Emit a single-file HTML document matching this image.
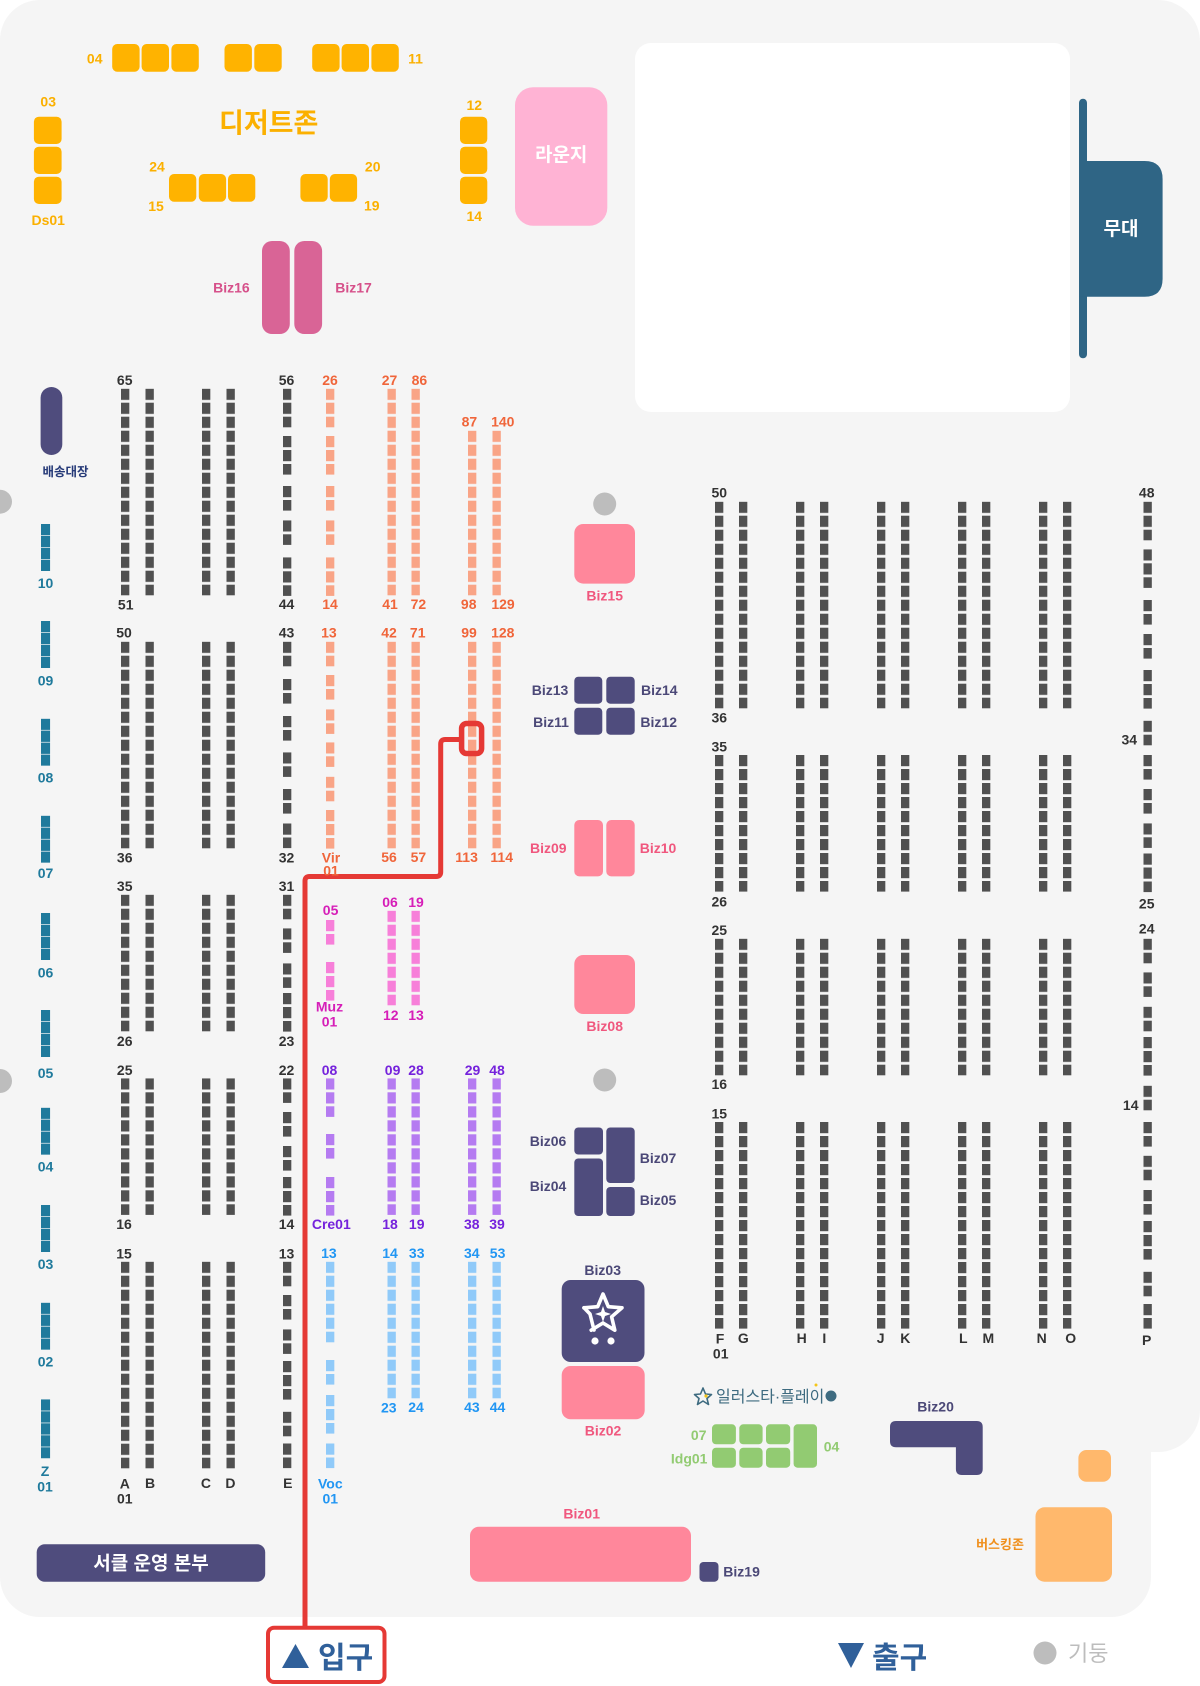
<!DOCTYPE html>
<html lang="ko">
<head>
<meta charset="utf-8">
<style>
  html,body{margin:0;padding:0;background:#ffffff;}
  body{width:1200px;height:1686px;overflow:hidden;}
  svg{display:block;}
  text{font-family:"Liberation Sans","Noto Sans CJK KR",sans-serif;}
  .l text{font-size:14px;font-weight:700;text-anchor:middle;}
</style>
</head>
<body>
<svg width="1200" height="1686" viewBox="0 0 1200 1686" xmlns="http://www.w3.org/2000/svg">
  <defs>
    <pattern id="pg" width="20" height="14" patternUnits="userSpaceOnUse"><rect width="8.4" height="11.2" fill="#505050"/></pattern>
    <pattern id="po" width="20" height="14" patternUnits="userSpaceOnUse"><rect width="8.4" height="11.2" fill="#F9A486"/></pattern>
    <pattern id="pp" width="20" height="14" patternUnits="userSpaceOnUse"><rect width="8.4" height="11.2" fill="#F77FD9"/></pattern>
    <pattern id="pu" width="20" height="14" patternUnits="userSpaceOnUse"><rect width="8.4" height="11.2" fill="#B57BF1"/></pattern>
    <pattern id="pb" width="20" height="14" patternUnits="userSpaceOnUse"><rect width="8.4" height="11.2" fill="#90CAF9"/></pattern>
    <pattern id="pt" width="20" height="12" patternUnits="userSpaceOnUse"><rect width="9.2" height="11.3" fill="#1F7A9C"/></pattern>
  </defs>

  <!-- background -->
  <rect x="0" y="0" width="1200" height="1452" rx="42" fill="#F5F5F5"/>
  <rect x="0" y="0" width="1151" height="1617" rx="40" fill="#F5F5F5"/>

  <!-- white area top right -->
  <rect x="635" y="43" width="435" height="369" rx="16" fill="#FFFFFF"/>

  <!-- stage -->
  <rect x="1079" y="98.7" width="8" height="259.6" rx="4" fill="#2F6585"/>
  <path d="M1079,161 L1144.6,161 Q1162.6,161 1162.6,179 L1162.6,278.7 Q1162.6,296.7 1144.6,296.7 L1079,296.7 Z" fill="#2F6585"/>
  <text x="1121" y="235" font-size="19" font-weight="700" fill="#FFFFFF" text-anchor="middle">무대</text>

  <!-- dessert zone boxes -->
  <g fill="#FFB300">
    <rect x="112.2" y="44" width="27.4" height="27.7" rx="5"/>
    <rect x="141.6" y="44" width="27.4" height="27.7" rx="5"/>
    <rect x="171.4" y="44" width="27.4" height="27.7" rx="5"/>
    <rect x="224.5" y="44" width="27.4" height="27.7" rx="5"/>
    <rect x="254.3" y="44" width="27.4" height="27.7" rx="5"/>
    <rect x="312.2" y="44" width="27.4" height="27.7" rx="5"/>
    <rect x="341.6" y="44" width="27.4" height="27.7" rx="5"/>
    <rect x="371.4" y="44" width="27.4" height="27.7" rx="5"/>
    <rect x="33.9" y="116.7" width="27.7" height="27.3" rx="5"/>
    <rect x="33.9" y="146.7" width="27.7" height="27.3" rx="5"/>
    <rect x="33.9" y="176.7" width="27.7" height="27.3" rx="5"/>
    <rect x="169" y="174" width="27.3" height="27.7" rx="5"/>
    <rect x="198.8" y="174" width="27.3" height="27.7" rx="5"/>
    <rect x="228" y="174" width="27.3" height="27.7" rx="5"/>
    <rect x="300.4" y="174" width="27.3" height="27.7" rx="5"/>
    <rect x="329.8" y="174" width="27.3" height="27.7" rx="5"/>
    <rect x="460" y="116.7" width="27.3" height="27.3" rx="5"/>
    <rect x="460" y="146.7" width="27.3" height="27.3" rx="5"/>
    <rect x="460" y="176.7" width="27.3" height="27.3" rx="5"/>
  </g>
  <text x="268.7" y="132.5" font-size="27" font-weight="700" fill="#FBB000" text-anchor="middle">디저트존</text>

  <!-- lounge -->
  <rect x="515" y="87.3" width="92.3" height="138.4" rx="18" fill="#FFB3D4"/>
  <text x="561.2" y="161" font-size="19" font-weight="700" fill="#FFFFFF" text-anchor="middle">라운지</text>

  <!-- Biz16/17 -->
  <rect x="262" y="241" width="27.8" height="93" rx="10" fill="#D96496"/>
  <rect x="294.3" y="241" width="27.8" height="93" rx="10" fill="#D96496"/>

  <!-- 배송대장 -->
  <rect x="40.6" y="387" width="21.7" height="68" rx="10.8" fill="#4F4C7D"/>
  <text x="65.5" y="476" font-size="12.5" font-weight="700" fill="#263A78" text-anchor="middle">배송대장</text>

  <!-- pillars -->
  <g fill="#BDBDBD">
    <circle cx="0" cy="501.7" r="12"/>
    <circle cx="0" cy="1081" r="12"/>
    <circle cx="604.7" cy="504" r="11.5"/>
    <circle cx="604.7" cy="1080" r="11.5"/>
  </g>

  <!-- left wall teal booths -->
  <g fill="url(#pt)">
    <rect transform="translate(41,524)" width="9.2" height="47"/>
    <rect transform="translate(41,621)" width="9.2" height="47"/>
    <rect transform="translate(41,718.7)" width="9.2" height="47"/>
    <rect transform="translate(41,815.7)" width="9.2" height="47"/>
    <rect transform="translate(41,913)" width="9.2" height="47"/>
    <rect transform="translate(41,1010)" width="9.2" height="47"/>
    <rect transform="translate(41,1107.7)" width="9.2" height="47"/>
    <rect transform="translate(41,1205)" width="9.2" height="47"/>
    <rect transform="translate(41,1302.7)" width="9.2" height="47"/>
    <rect transform="translate(41,1399.3)" width="9.2" height="59"/>
  </g>

  <!-- left block gray A B C D -->
  <g fill="url(#pg)">
    <rect transform="translate(121,388.7)" width="8.4" height="206.6"/>
    <rect transform="translate(145.5,388.7)" width="8.4" height="206.6"/>
    <rect transform="translate(202,388.7)" width="8.4" height="206.6"/>
    <rect transform="translate(226.5,388.7)" width="8.4" height="206.6"/>
    <rect transform="translate(121,641.7)" width="8.4" height="206.6"/>
    <rect transform="translate(145.5,641.7)" width="8.4" height="206.6"/>
    <rect transform="translate(202,641.7)" width="8.4" height="206.6"/>
    <rect transform="translate(226.5,641.7)" width="8.4" height="206.6"/>
    <rect transform="translate(121,894.7)" width="8.4" height="136.6"/>
    <rect transform="translate(145.5,894.7)" width="8.4" height="136.6"/>
    <rect transform="translate(202,894.7)" width="8.4" height="136.6"/>
    <rect transform="translate(226.5,894.7)" width="8.4" height="136.6"/>
    <rect transform="translate(121,1078.3)" width="8.4" height="136.6"/>
    <rect transform="translate(145.5,1078.3)" width="8.4" height="136.6"/>
    <rect transform="translate(202,1078.3)" width="8.4" height="136.6"/>
    <rect transform="translate(226.5,1078.3)" width="8.4" height="136.6"/>
    <rect transform="translate(121,1261.7)" width="8.4" height="206.6"/>
    <rect transform="translate(145.5,1261.7)" width="8.4" height="206.6"/>
    <rect transform="translate(202,1261.7)" width="8.4" height="206.6"/>
    <rect transform="translate(226.5,1261.7)" width="8.4" height="206.6"/>
    <!-- E column -->
    <rect transform="translate(283,388.7)" width="8.4" height="38.6"/>
    <rect transform="translate(283,436)" width="8.4" height="38.6"/>
    <rect transform="translate(283,486)" width="8.4" height="24.6"/>
    <rect transform="translate(283,520.3)" width="8.4" height="24.6"/>
    <rect transform="translate(283,557.3)" width="8.4" height="38.6"/>
    <rect transform="translate(283,641.7)" width="8.4" height="24.6"/>
    <rect transform="translate(283,679)" width="8.4" height="24.6"/>
    <rect transform="translate(283,716)" width="8.4" height="24.6"/>
    <rect transform="translate(283,752.3)" width="8.4" height="24.6"/>
    <rect transform="translate(283,789)" width="8.4" height="24.6"/>
    <rect transform="translate(283,823.5)" width="8.4" height="24.6"/>
    <rect transform="translate(283,894.7)" width="8.4" height="24.6"/>
    <rect transform="translate(283,928.3)" width="8.4" height="24.6"/>
    <rect transform="translate(283,963.3)" width="8.4" height="24.6"/>
    <rect transform="translate(283,993)" width="8.4" height="38.6"/>
    <rect transform="translate(283,1078.3)" width="8.4" height="24.6"/>
    <rect transform="translate(283,1112)" width="8.4" height="24.6"/>
    <rect transform="translate(283,1146)" width="8.4" height="24.6"/>
    <rect transform="translate(283,1177)" width="8.4" height="38.6"/>
    <rect transform="translate(283,1261.7)" width="8.4" height="24.6"/>
    <rect transform="translate(283,1295)" width="8.4" height="24.6"/>
    <rect transform="translate(283,1329.3)" width="8.4" height="24.6"/>
    <rect transform="translate(283,1361)" width="8.4" height="38.6"/>
    <rect transform="translate(283,1411.7)" width="8.4" height="24.6"/>
    <rect transform="translate(283,1443.5)" width="8.4" height="24.6"/>
  </g>

  <!-- orange -->
  <g fill="url(#po)">
    <rect transform="translate(326,388.7)" width="8.4" height="38.6"/>
    <rect transform="translate(326,436)" width="8.4" height="38.6"/>
    <rect transform="translate(326,486)" width="8.4" height="24.6"/>
    <rect transform="translate(326,520.3)" width="8.4" height="24.6"/>
    <rect transform="translate(326,557.3)" width="8.4" height="38.6"/>
    <rect transform="translate(326,641.7)" width="8.4" height="24.6"/>
    <rect transform="translate(326,675)" width="8.4" height="24.6"/>
    <rect transform="translate(326,709.3)" width="8.4" height="24.6"/>
    <rect transform="translate(326,742.3)" width="8.4" height="24.6"/>
    <rect transform="translate(326,776.7)" width="8.4" height="24.6"/>
    <rect transform="translate(326,810)" width="8.4" height="38.6"/>
    <rect transform="translate(387.5,388.7)" width="8.4" height="206.6"/>
    <rect transform="translate(411.5,388.7)" width="8.4" height="206.6"/>
    <rect transform="translate(468,430.7)" width="8.4" height="164.6"/>
    <rect transform="translate(492.5,430.7)" width="8.4" height="164.6"/>
    <rect transform="translate(387.5,641.7)" width="8.4" height="206.6"/>
    <rect transform="translate(411.5,641.7)" width="8.4" height="206.6"/>
    <rect transform="translate(468,641.7)" width="8.4" height="206.6"/>
    <rect transform="translate(492.5,641.7)" width="8.4" height="206.6"/>
  </g>

  <!-- pink -->
  <g fill="url(#pp)">
    <rect transform="translate(326,920)" width="8.4" height="24.6"/>
    <rect transform="translate(326,962)" width="8.4" height="38.6"/>
    <rect transform="translate(387.5,910.7)" width="8.4" height="94.6"/>
    <rect transform="translate(411.5,910.7)" width="8.4" height="94.6"/>
  </g>

  <!-- purple -->
  <g fill="url(#pu)">
    <rect transform="translate(326,1078.3)" width="8.4" height="38.6"/>
    <rect transform="translate(326,1134)" width="8.4" height="24.6"/>
    <rect transform="translate(326,1177)" width="8.4" height="38.6"/>
    <rect transform="translate(387.5,1078.3)" width="8.4" height="136.6"/>
    <rect transform="translate(411.5,1078.3)" width="8.4" height="136.6"/>
    <rect transform="translate(468,1078.3)" width="8.4" height="136.6"/>
    <rect transform="translate(492.5,1078.3)" width="8.4" height="136.6"/>
  </g>

  <!-- light blue -->
  <g fill="url(#pb)">
    <rect transform="translate(326,1261.7)" width="8.4" height="80.6"/>
    <rect transform="translate(326,1360)" width="8.4" height="24.6"/>
    <rect transform="translate(326,1395)" width="8.4" height="38.6"/>
    <rect transform="translate(326,1443.5)" width="8.4" height="24.6"/>
    <rect transform="translate(387.5,1261.7)" width="8.4" height="136.6"/>
    <rect transform="translate(411.5,1261.7)" width="8.4" height="136.6"/>
    <rect transform="translate(468,1261.7)" width="8.4" height="136.6"/>
    <rect transform="translate(492.5,1261.7)" width="8.4" height="136.6"/>
  </g>

  <!-- right block gray F..O -->
  <g fill="url(#pg)">
    <rect transform="translate(715,501.7)" width="8.4" height="206.6"/>
    <rect transform="translate(739,501.7)" width="8.4" height="206.6"/>
    <rect transform="translate(796,501.7)" width="8.4" height="206.6"/>
    <rect transform="translate(820,501.7)" width="8.4" height="206.6"/>
    <rect transform="translate(877,501.7)" width="8.4" height="206.6"/>
    <rect transform="translate(901,501.7)" width="8.4" height="206.6"/>
    <rect transform="translate(958,501.7)" width="8.4" height="206.6"/>
    <rect transform="translate(982,501.7)" width="8.4" height="206.6"/>
    <rect transform="translate(1039,501.7)" width="8.4" height="206.6"/>
    <rect transform="translate(1063,501.7)" width="8.4" height="206.6"/>
    <rect transform="translate(715,755)" width="8.4" height="136.6"/>
    <rect transform="translate(739,755)" width="8.4" height="136.6"/>
    <rect transform="translate(796,755)" width="8.4" height="136.6"/>
    <rect transform="translate(820,755)" width="8.4" height="136.6"/>
    <rect transform="translate(877,755)" width="8.4" height="136.6"/>
    <rect transform="translate(901,755)" width="8.4" height="136.6"/>
    <rect transform="translate(958,755)" width="8.4" height="136.6"/>
    <rect transform="translate(982,755)" width="8.4" height="136.6"/>
    <rect transform="translate(1039,755)" width="8.4" height="136.6"/>
    <rect transform="translate(1063,755)" width="8.4" height="136.6"/>
    <rect transform="translate(715,938.7)" width="8.4" height="136.6"/>
    <rect transform="translate(739,938.7)" width="8.4" height="136.6"/>
    <rect transform="translate(796,938.7)" width="8.4" height="136.6"/>
    <rect transform="translate(820,938.7)" width="8.4" height="136.6"/>
    <rect transform="translate(877,938.7)" width="8.4" height="136.6"/>
    <rect transform="translate(901,938.7)" width="8.4" height="136.6"/>
    <rect transform="translate(958,938.7)" width="8.4" height="136.6"/>
    <rect transform="translate(982,938.7)" width="8.4" height="136.6"/>
    <rect transform="translate(1039,938.7)" width="8.4" height="136.6"/>
    <rect transform="translate(1063,938.7)" width="8.4" height="136.6"/>
    <rect transform="translate(715,1122)" width="8.4" height="206.6"/>
    <rect transform="translate(739,1122)" width="8.4" height="206.6"/>
    <rect transform="translate(796,1122)" width="8.4" height="206.6"/>
    <rect transform="translate(820,1122)" width="8.4" height="206.6"/>
    <rect transform="translate(877,1122)" width="8.4" height="206.6"/>
    <rect transform="translate(901,1122)" width="8.4" height="206.6"/>
    <rect transform="translate(958,1122)" width="8.4" height="206.6"/>
    <rect transform="translate(982,1122)" width="8.4" height="206.6"/>
    <rect transform="translate(1039,1122)" width="8.4" height="206.6"/>
    <rect transform="translate(1063,1122)" width="8.4" height="206.6"/>
    <!-- P column -->
    <rect transform="translate(1143.5,501.7)" width="8.4" height="38.6"/>
    <rect transform="translate(1143.5,549.3)" width="8.4" height="38.6"/>
    <rect transform="translate(1143.5,600)" width="8.4" height="24.6"/>
    <rect transform="translate(1143.5,634)" width="8.4" height="24.6"/>
    <rect transform="translate(1143.5,670)" width="8.4" height="38.6"/>
    <rect transform="translate(1143.5,720.7)" width="8.4" height="24.6"/>
    <rect transform="translate(1143.5,755)" width="8.4" height="24.6"/>
    <rect transform="translate(1143.5,789)" width="8.4" height="24.6"/>
    <rect transform="translate(1143.5,823.3)" width="8.4" height="24.6"/>
    <rect transform="translate(1143.5,853.5)" width="8.4" height="38.6"/>
    <rect transform="translate(1143.5,938.7)" width="8.4" height="24.6"/>
    <rect transform="translate(1143.5,972.3)" width="8.4" height="24.6"/>
    <rect transform="translate(1143.5,1006.7)" width="8.4" height="24.6"/>
    <rect transform="translate(1143.5,1037)" width="8.4" height="38.6"/>
    <rect transform="translate(1143.5,1085.7)" width="8.4" height="24.6"/>
    <rect transform="translate(1143.5,1122)" width="8.4" height="24.6"/>
    <rect transform="translate(1143.5,1155.7)" width="8.4" height="24.6"/>
    <rect transform="translate(1143.5,1190)" width="8.4" height="24.6"/>
    <rect transform="translate(1143.5,1221)" width="8.4" height="38.6"/>
    <rect transform="translate(1143.5,1271.7)" width="8.4" height="24.6"/>
    <rect transform="translate(1143.5,1304)" width="8.4" height="24.6"/>
  </g>

  <!-- Biz boxes -->
  <g fill="#FF879B">
    <rect x="574.3" y="524" width="60.7" height="59.6" rx="9"/>
    <rect x="574.3" y="820" width="28.7" height="56.4" rx="5"/>
    <rect x="606.3" y="820" width="28.4" height="56.4" rx="5"/>
    <rect x="574.3" y="955" width="60.7" height="59" rx="9"/>
    <rect x="561.7" y="1366" width="83" height="53.3" rx="9"/>
    <rect x="470" y="1526.7" width="221" height="55" rx="9"/>
  </g>
  <g fill="#4F4C7D">
    <rect x="574.3" y="676.7" width="28" height="27" rx="4"/>
    <rect x="606.3" y="676.7" width="28.4" height="27" rx="4"/>
    <rect x="574.3" y="707.7" width="28" height="27" rx="4"/>
    <rect x="606.3" y="707.7" width="28.4" height="27" rx="4"/>
    <rect x="574.3" y="1127.5" width="28.7" height="27" rx="4"/>
    <rect x="574.3" y="1158.5" width="28.7" height="57.5" rx="4"/>
    <rect x="606.3" y="1127.5" width="28.4" height="55.5" rx="4"/>
    <rect x="606.3" y="1187" width="28.4" height="29" rx="4"/>
    <rect x="561.7" y="1280" width="82.8" height="82" rx="9"/>
    <rect x="699.5" y="1562" width="19" height="19.7" rx="4"/>
    <path d="M896,1421 L976.7,1421 Q982.7,1421 982.7,1427 L982.7,1469 Q982.7,1475 976.7,1475 L961.9,1475 Q955.9,1475 955.9,1469 L955.9,1447.3 L896,1447.3 Q890,1447.3 890,1441.3 L890,1427 Q890,1421 896,1421 Z"/>
    <rect x="36.7" y="1544.3" width="228.5" height="37.4" rx="8"/>
  </g>

  <!-- Biz03 icon -->
  <g fill="none" stroke="#FFFFFF" stroke-width="3.6" stroke-linejoin="round" stroke-linecap="round">
    <path d="M584,1307.8 L597.7,1306.7 L603,1294 L608.3,1306.7 L622,1307.8 L611.6,1316.8 L614.8,1330.2 L603,1323 L591.2,1330.2"/>
    <path d="M584,1307.8 L590,1314 L594,1330"/>
  </g>
  <path d="M603,1306 L605,1312 L611,1314 L605,1316 L603,1322 L601,1316 L595,1314 L601,1312 Z" fill="#FFFFFF"/>
  <circle cx="595" cy="1341" r="3.6" fill="#FFFFFF"/>
  <circle cx="611" cy="1341" r="3.6" fill="#FFFFFF"/>

  <!-- Idg green -->
  <g fill="#92CB72">
    <rect x="712" y="1424.3" width="23.9" height="20" rx="4"/>
    <rect x="739.3" y="1424.3" width="23.3" height="20" rx="4"/>
    <rect x="766" y="1424.3" width="24.2" height="20" rx="4"/>
    <rect x="712" y="1447.7" width="23.9" height="20" rx="4"/>
    <rect x="739.3" y="1447.7" width="23.3" height="20" rx="4"/>
    <rect x="766" y="1447.7" width="24.2" height="20" rx="4"/>
    <rect x="793.6" y="1424.3" width="23.4" height="43.4" rx="4"/>
  </g>

  <!-- illustar logo -->
  <path d="M703,1388 L705.5,1394 L711.5,1394.5 L707,1398.5 L708.5,1404.5 L703,1401 L697.5,1404.5 L699,1398.5 L694.5,1394.5 L700.5,1394 Z" fill="none" stroke="#3E6B80" stroke-width="1.6" stroke-linejoin="round"/>
  <circle cx="706" cy="1396" r="1.6" fill="#F5C518"/>
  <text x="716" y="1402" font-size="16" fill="#3E6B80">일러스타·플레이</text>
  <circle cx="831" cy="1396" r="5.5" fill="#3E6B80"/>
  <circle cx="816" cy="1385" r="1.5" fill="#F5C518"/>

  <!-- busking -->
  <rect x="1078.4" y="1450" width="32.6" height="31.7" rx="8" fill="#FFB86C"/>
  <rect x="1035.5" y="1507.3" width="76.5" height="74.4" rx="9" fill="#FFB86C"/>
  <text x="1000" y="1549" font-size="13" font-weight="700" fill="#F0901E" text-anchor="middle">버스킹존</text>

  <!-- 서클 운영 본부 text -->
  <text x="151" y="1569.5" font-size="19" font-weight="700" fill="#FFFFFF" text-anchor="middle">서클 운영 본부</text>

  <!-- route -->
  <path d="M305,1627 L305,881 Q305,876.5 309.5,876.5 L436.2,876.5 Q440.7,876.5 440.7,872 L440.7,744 Q440.7,739.5 445.2,739.5 L461,739.5" fill="none" stroke="#E53935" stroke-width="5" stroke-linejoin="round"/>
  <rect x="461.6" y="723.5" width="20" height="30" rx="5" fill="none" stroke="#E53935" stroke-width="5.5"/>

  <!-- entrance -->
  <rect x="268" y="1627.7" width="116.5" height="54.3" rx="6" fill="#FFFFFF" stroke="#E53935" stroke-width="4"/>
  <polygon points="282,1668 309,1668 295.5,1644" fill="#30609A"/>
  <text x="318" y="1668" font-size="30" font-weight="700" fill="#30609A">입구</text>

  <!-- exit -->
  <polygon points="838,1643 864,1643 851,1668" fill="#30609A"/>
  <text x="872" y="1668" font-size="30" font-weight="700" fill="#30609A">출구</text>

  <!-- legend -->
  <circle cx="1045" cy="1653" r="11.5" fill="#BDBDBD"/>
  <text x="1068" y="1661" font-size="22" fill="#BDBDBD">기둥</text>

  <!-- LABELS -->
  <g class="l" fill="#FBB000">
    <text x="94.7" y="63.3">04</text>
    <text x="415.5" y="63.3">11</text>
    <text x="48.2" y="106.7">03</text>
    <text x="48.2" y="225">Ds01</text>
    <text x="157" y="171.7">24</text>
    <text x="156" y="211">15</text>
    <text x="372.7" y="171.7">20</text>
    <text x="371.8" y="210.7">19</text>
    <text x="474.3" y="110">12</text>
    <text x="474.3" y="221">14</text>
  </g>

  <g class="l" fill="#D6508A">
    <text x="231.4" y="292.3">Biz16</text>
    <text x="353.5" y="292.3">Biz17</text>
  </g>

  <g class="l" fill="#1F7A9C">
    <text x="45.5" y="588">10</text>
    <text x="45.5" y="685.7">09</text>
    <text x="45.5" y="782.7">08</text>
    <text x="45.5" y="878">07</text>
    <text x="45.5" y="977.7">06</text>
    <text x="45.5" y="1078">05</text>
    <text x="45.5" y="1171.7">04</text>
    <text x="45.5" y="1269">03</text>
    <text x="45.5" y="1366.7">02</text>
    <text x="45" y="1476">Z</text>
    <text x="45" y="1491.7">01</text>
  </g>

  <g class="l" fill="#333333">
    <text x="124.7" y="385">65</text>
    <text x="125.7" y="609.3">51</text>
    <text x="286.5" y="385">56</text>
    <text x="286.5" y="609">44</text>
    <text x="124" y="637.7">50</text>
    <text x="286.5" y="637.7">43</text>
    <text x="124.7" y="862.3">36</text>
    <text x="286.5" y="862.3">32</text>
    <text x="124.7" y="891">35</text>
    <text x="286.5" y="891">31</text>
    <text x="124.7" y="1046">26</text>
    <text x="286.5" y="1046">23</text>
    <text x="124.7" y="1075">25</text>
    <text x="286.5" y="1075">22</text>
    <text x="124" y="1229">16</text>
    <text x="286.5" y="1229">14</text>
    <text x="124" y="1258.3">15</text>
    <text x="286.5" y="1258.3">13</text>
    <text x="124.8" y="1488.3">A</text>
    <text x="124.8" y="1503.3">01</text>
    <text x="150" y="1488">B</text>
    <text x="205.9" y="1488">C</text>
    <text x="230.4" y="1488">D</text>
    <text x="287.8" y="1488">E</text>

    <text x="719.3" y="497.3">50</text>
    <text x="719.3" y="722.7">36</text>
    <text x="719.3" y="751.7">35</text>
    <text x="719.3" y="906.7">26</text>
    <text x="1146.7" y="497.3">48</text>
    <text x="1129.3" y="744.3">34</text>
    <text x="1146.7" y="908.3">25</text>
    <text x="719.3" y="935">25</text>
    <text x="719.3" y="1089">16</text>
    <text x="719.3" y="1118.3">15</text>
    <text x="1146.7" y="933.3">24</text>
    <text x="1130.7" y="1110">14</text>
    <text x="720" y="1343.3">F</text>
    <text x="720.7" y="1358.3">01</text>
    <text x="743.3" y="1343">G</text>
    <text x="801.7" y="1343">H</text>
    <text x="824.3" y="1343">I</text>
    <text x="880.7" y="1343">J</text>
    <text x="905.3" y="1343">K</text>
    <text x="963.3" y="1343">L</text>
    <text x="988.3" y="1343">M</text>
    <text x="1041.7" y="1343">N</text>
    <text x="1070.7" y="1343">O</text>
    <text x="1146.7" y="1345">P</text>
  </g>

  <g class="l" fill="#F0653A">
    <text x="330" y="385">26</text>
    <text x="389.5" y="385">27</text>
    <text x="419.4" y="385">86</text>
    <text x="469.4" y="426.7">87</text>
    <text x="502.8" y="426.7">140</text>
    <text x="330" y="609">14</text>
    <text x="390" y="609">41</text>
    <text x="418.4" y="609">72</text>
    <text x="468.7" y="609">98</text>
    <text x="503" y="609">129</text>
    <text x="328.9" y="637.7">13</text>
    <text x="389" y="637.7">42</text>
    <text x="417.7" y="637.7">71</text>
    <text x="469" y="637.7">99</text>
    <text x="502.8" y="637.7">128</text>
    <text x="331" y="862.3">Vir</text>
    <text x="331" y="875.7">01</text>
    <text x="389" y="862">56</text>
    <text x="418.4" y="862">57</text>
    <text x="466.6" y="862">113</text>
    <text x="501.7" y="862">114</text>
  </g>

  <g class="l" fill="#D61EB8">
    <text x="330.6" y="915">05</text>
    <text x="390" y="907">06</text>
    <text x="416" y="907">19</text>
    <text x="329.5" y="1011.7">Muz</text>
    <text x="329.5" y="1026.7">01</text>
    <text x="390.8" y="1020">12</text>
    <text x="416" y="1020">13</text>
  </g>

  <g class="l" fill="#7522DC">
    <text x="329.5" y="1075">08</text>
    <text x="392.6" y="1075">09</text>
    <text x="416" y="1075">28</text>
    <text x="472.5" y="1075">29</text>
    <text x="497" y="1075">48</text>
    <text x="331.3" y="1229">Cre01</text>
    <text x="390" y="1229">18</text>
    <text x="416.7" y="1229">19</text>
    <text x="471.8" y="1229">38</text>
    <text x="497" y="1229">39</text>
  </g>

  <g class="l" fill="#2196F3">
    <text x="328.9" y="1258">13</text>
    <text x="390" y="1258">14</text>
    <text x="416.7" y="1258">33</text>
    <text x="471.8" y="1258">34</text>
    <text x="497.6" y="1258">53</text>
    <text x="388.8" y="1412.3">23</text>
    <text x="416" y="1412">24</text>
    <text x="471.9" y="1412">43</text>
    <text x="497.5" y="1412">44</text>
    <text x="330.3" y="1488.3">Voc</text>
    <text x="330.3" y="1503.3">01</text>
  </g>

  <g class="l" fill="#4B4877">
    <text x="550" y="695">Biz13</text>
    <text x="659.3" y="695">Biz14</text>
    <text x="551" y="727">Biz11</text>
    <text x="658.7" y="727">Biz12</text>
    <text x="548" y="1146">Biz06</text>
    <text x="548" y="1191">Biz04</text>
    <text x="658" y="1163">Biz07</text>
    <text x="658" y="1205">Biz05</text>
    <text x="602.7" y="1275">Biz03</text>
    <text x="741.6" y="1576.7">Biz19</text>
    <text x="935.6" y="1411.7">Biz20</text>
  </g>

  <g class="l" fill="#F0577E">
    <text x="604.7" y="600.7">Biz15</text>
    <text x="548.3" y="852.8">Biz09</text>
    <text x="658" y="852.8">Biz10</text>
    <text x="604.7" y="1031">Biz08</text>
    <text x="603" y="1435.7">Biz02</text>
    <text x="581.7" y="1518.3">Biz01</text>
  </g>

  <g class="l" fill="#92CB72">
    <text x="698.7" y="1440">07</text>
    <text x="689.2" y="1463.3">Idg01</text>
    <text x="831.5" y="1451.7">04</text>
  </g>
</svg>
</body>
</html>
